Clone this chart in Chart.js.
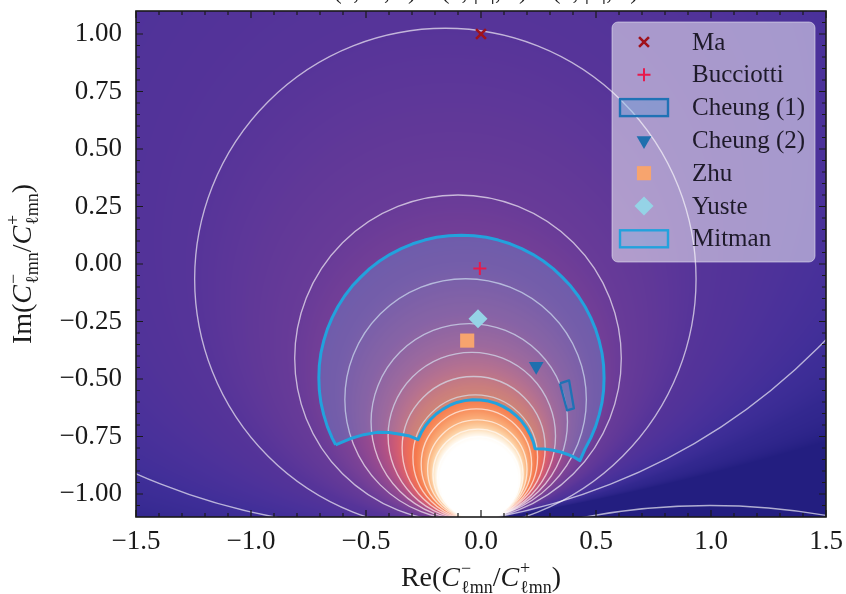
<!DOCTYPE html>
<html lang="en">
<head>
  <meta charset="UTF-8" />
  <title>Mode amplitude ratio</title>
  <script src="https://cdn.jsdelivr.net/npm/chart.js"></script>
  <style>
    body { margin: 0; background: #fff; }
    .wrap { width: 846px; height: 594px; position: relative; }
  </style>
</head>
<body>
  <div class="wrap"><canvas id="ratioChart"></canvas></div>

  <script>
    // ---- data ----
    const xTicks = [-1.5, -1.0, -0.5, 0.0, 0.5, 1.0, 1.5];
    const xTickLabels = ['−1.5', '−1.0', '−0.5', '0.0', '0.5', '1.0', '1.5'];
    const yTicks = [-1.0, -0.75, -0.5, -0.25, 0.0, 0.25, 0.5, 0.75, 1.0];
    const yTickLabels = ['−1.00', '−0.75', '−0.50', '−0.25', '0.00', '0.25', '0.50', '0.75', '1.00'];

    // single estimates (Re, Im)
    const pointLabels = ['Ma', 'Bucciotti', 'Cheung (2)', 'Zhu', 'Yuste'];
    const pointRe = [0.0, -0.005, 0.24, -0.06, -0.013];
    const pointIm = [1.0, -0.02, -0.445, -0.333, -0.238];

    // region outlines (closed)
    const cheung1Re = [0.343, 0.383, 0.404, 0.374, 0.343];
    const cheung1Im = [-0.519, -0.506, -0.628, -0.636, -0.519];

    const mitmanRe = [
      // outer edge, left corner over the top to right corner
      -0.632, -0.647, -0.668, -0.684, -0.696, -0.703, -0.705, -0.703, -0.696, -0.684, -0.668, -0.647, -0.622,
      -0.593, -0.560, -0.523, -0.484, -0.441, -0.395, -0.347, -0.297, -0.245, -0.193, -0.139, -0.085, -0.031,
      0.023, 0.075, 0.127, 0.177, 0.225, 0.271, 0.314, 0.353, 0.390, 0.423, 0.452, 0.477, 0.498, 0.514, 0.526,
      0.533, 0.535, 0.533, 0.526, 0.514, 0.498, 0.477, 0.452, 0.430,
      // lower right edge
      0.405, 0.374, 0.345, 0.313, 0.275,
      // inner edge
      0.235, 0.228, 0.215, 0.198, 0.178, 0.154, 0.127, 0.097, 0.066, 0.032, -0.002, -0.037, -0.071, -0.105,
      -0.137, -0.167, -0.195, -0.220, -0.242, -0.260, -0.274,
      // lower left edge
      -0.310, -0.352, -0.400, -0.452, -0.510, -0.570, -0.632];
    const mitmanIm = [
      -0.786, -0.757, -0.707, -0.655, -0.603, -0.549, -0.495, -0.441, -0.387, -0.335, -0.283, -0.233, -0.185,
      -0.139, -0.096, -0.057, -0.020, 0.013, 0.042, 0.067, 0.088, 0.104, 0.116, 0.123, 0.125, 0.123,
      0.116, 0.104, 0.088, 0.067, 0.042, 0.013, -0.020, -0.057, -0.096, -0.139, -0.185, -0.233, -0.283, -0.335, -0.387,
      -0.441, -0.495, -0.549, -0.603, -0.655, -0.707, -0.757, -0.805, -0.855,
      -0.840, -0.827, -0.817, -0.810, -0.804,
      -0.803, -0.775, -0.743, -0.713, -0.685, -0.660, -0.638, -0.620, -0.606, -0.596, -0.591, -0.590, -0.594, -0.602,
      -0.615, -0.632, -0.652, -0.676, -0.703, -0.733, -0.764,
      -0.748, -0.740, -0.733, -0.732, -0.742, -0.760, -0.786];

    // contour circles of the background map: centre and radius
    const contourCx = [-0.414, -0.155, -0.100, -0.067, -0.051, -0.040, -0.032, -0.025, -0.020, -0.016, -0.013, -0.010, 0.995];
    const contourCy = [1.511, -0.065, -0.410, -0.589, -0.686, -0.748, -0.800, -0.840, -0.870, -0.894, -0.914, -0.930, -4.0];
    const contourR = [2.655, 1.09, 0.71, 0.525, 0.427, 0.364, 0.311, 0.271, 0.240, 0.216, 0.196, 0.179, 2.95];

    // background colour map, by radius of the level circle through a point
    const bgStopR = [0.17, 0.18, 0.19, 0.20, 0.215, 0.235, 0.26, 0.29, 0.33, 0.38, 0.45, 0.55, 0.71, 1.09, 1.8, 2.655, 4.5, 12];
    const bgStopColor = ['#ffffff', '#fffbf4', '#feebd2', '#fdd2a6', '#fbb47f', '#f89563', '#f57a4e', '#ec6c5a',
      '#d25c72', '#b05185', '#934990', '#7b4296', '#683b98', '#563499', '#4a319a', '#3f2e98', '#33288f', '#231e80'];
    // level circles: centre = base + r * drift
    const levelBase = [0.019, -1.107];
    const levelDrift = [-0.163, 0.986];

    const serif = "'Liberation Serif', 'DejaVu Serif', serif";

    function pts(re, im) {
      return re.map((v, i) => ({ x: v, y: im[i] }));
    }

    function hexRgb(h) {
      return [parseInt(h.slice(1, 3), 16), parseInt(h.slice(3, 5), 16), parseInt(h.slice(5, 7), 16)];
    }

    function levelColor(r, stops) {
      if (r <= bgStopR[0]) return stops[0];
      const n = bgStopR.length - 1;
      if (r >= bgStopR[n]) return stops[n];
      let i = 0;
      while (bgStopR[i + 1] < r) i++;
      const f = (r - bgStopR[i]) / (bgStopR[i + 1] - bgStopR[i]);
      const a = stops[i], b = stops[i + 1];
      return [a[0] + (b[0] - a[0]) * f, a[1] + (b[1] - a[1]) * f, a[2] + (b[2] - a[2]) * f];
    }

    // background map + contour lines
    const backdrop = {
      id: 'backdrop',
      beforeDatasetsDraw(chart) {
        const { ctx, chartArea: a, scales: { x, y } } = chart;
        const unit = x.getPixelForValue(1) - x.getPixelForValue(0);
        const w = Math.round(a.width), h = Math.round(a.height);
        const img = ctx.createImageData(w, h);
        const stops = bgStopColor.map(hexRgb);
        const x0 = x.getValueForPixel(a.left), y0 = y.getValueForPixel(a.top);
        const dxp = (x.getValueForPixel(a.right) - x0) / w;
        const dyp = (y.getValueForPixel(a.bottom) - y0) / h;
        const dd = levelDrift[0] ** 2 + levelDrift[1] ** 2 - 1;
        for (let j = 0; j < h; j++) {
          const qy = y0 + (j + 0.5) * dyp - levelBase[1];
          for (let i = 0; i < w; i++) {
            const qx = x0 + (i + 0.5) * dxp - levelBase[0];
            const c = qx * qx + qy * qy;
            const qd = qx * levelDrift[0] + qy * levelDrift[1];
            const den = qd + Math.sqrt(Math.max(qd * qd - dd * c, 0));
            const r = den > 1e-9 ? c / den : Infinity;
            const col = levelColor(r, stops);
            const k = (j * w + i) * 4;
            img.data[k] = col[0]; img.data[k + 1] = col[1]; img.data[k + 2] = col[2]; img.data[k + 3] = 255;
          }
        }
        ctx.putImageData(img, Math.round(a.left), Math.round(a.top));

        ctx.save();
        ctx.beginPath();
        ctx.rect(a.left, a.top, a.width, a.height);
        ctx.clip();
        ctx.strokeStyle = 'rgba(255,255,255,0.64)';
        ctx.lineWidth = 1.35;
        contourR.forEach((r, i) => {
          ctx.beginPath();
          ctx.arc(x.getPixelForValue(contourCx[i]), y.getPixelForValue(contourCy[i]), r * unit, 0, Math.PI * 2);
          ctx.stroke();
        });
        ctx.restore();
      }
    };

    // inward ticks on all four sides plus the frame
    const frame = {
      id: 'frame',
      afterDatasetsDraw(chart) {
        const { ctx, chartArea: a, scales: { x, y } } = chart;
        ctx.save();
        ctx.strokeStyle = '#1a1a1a';
        ctx.lineWidth = 1.2;
        ctx.beginPath();
        for (let v = -15; v <= 15; v++) {
          const p = x.getPixelForValue(v / 10);
          const len = v % 5 === 0 ? 7 : 4;
          ctx.moveTo(p, a.bottom); ctx.lineTo(p, a.bottom - len);
          ctx.moveTo(p, a.top); ctx.lineTo(p, a.top + len);
        }
        for (let v = -21; v <= 21; v++) {
          const p = y.getPixelForValue(v / 20);
          const len = v % 5 === 0 ? 7 : 4;
          ctx.moveTo(a.left, p); ctx.lineTo(a.left + len, p);
          ctx.moveTo(a.right, p); ctx.lineTo(a.right - len, p);
        }
        ctx.stroke();
        ctx.lineWidth = 1.6;
        ctx.strokeRect(a.left, a.top, a.width, a.height);
        ctx.restore();
      }
    };

    // text with stacked super/subscripts, e.g. C^-_{lmn}
    function mathWidth(ctx, parts, size) {
      let w = 0;
      parts.forEach(p => {
        if (typeof p === 'string') {
          ctx.font = size + 'px ' + serif;
          w += ctx.measureText(p).width;
        } else {
          ctx.font = 'italic ' + size + 'px ' + serif;
          w += ctx.measureText(p.base).width + 1;
          ctx.font = Math.round(size * 0.66) + 'px ' + serif;
          w += Math.max(ctx.measureText(p.sup).width, ctx.measureText(p.sub).width);
        }
      });
      return w;
    }

    function drawMath(ctx, parts, cx, base, size) {
      let x = cx - mathWidth(ctx, parts, size) / 2;
      ctx.textAlign = 'left';
      ctx.textBaseline = 'alphabetic';
      parts.forEach(p => {
        if (typeof p === 'string') {
          ctx.font = size + 'px ' + serif;
          ctx.fillText(p, x, base);
          x += ctx.measureText(p).width;
        } else {
          ctx.font = 'italic ' + size + 'px ' + serif;
          ctx.fillText(p.base, x, base);
          x += ctx.measureText(p.base).width + 1;
          ctx.font = Math.round(size * 0.66) + 'px ' + serif;
          ctx.fillText(p.sup, x, base - size * 0.42);
          ctx.fillText(p.sub, x, base + size * 0.24);
          x += Math.max(ctx.measureText(p.sup).width, ctx.measureText(p.sub).width);
        }
      });
    }

    const xTitle = ['Re(', { base: 'C', sup: '−', sub: 'ℓmn' }, '/', { base: 'C', sup: '+', sub: 'ℓmn' }, ')'];
    const yTitle = ['Im(', { base: 'C', sup: '−', sub: 'ℓmn' }, '/', { base: 'C', sup: '+', sub: 'ℓmn' }, ')'];
    const topTitle = '(ℓ, m, n) = (2, |2|, 0) × (2, |2|, 0)';

    const labels = {
      id: 'labels',
      afterDraw(chart) {
        const { ctx, chartArea: a } = chart;
        ctx.save();
        ctx.fillStyle = '#1a1a1a';
        drawMath(ctx, xTitle, (a.left + a.right) / 2, 586, 28);
        ctx.save();
        ctx.translate(22, (a.top + a.bottom) / 2);
        ctx.rotate(-Math.PI / 2);
        drawMath(ctx, yTitle, 0, 9, 28);
        ctx.restore();
        // title sits mostly above the visible canvas
        ctx.font = '24px ' + serif;
        ctx.textAlign = 'center';
        ctx.textBaseline = 'alphabetic';
        ctx.fillText(topTitle, 486, -1);
        ctx.restore();
      }
    };

    // legend box in the upper right of the plot
    const legendBox = {
      id: 'legendBox',
      afterDraw(chart) {
        const { ctx } = chart;
        const L = 612, T = 22, W = 203, H = 240;
        ctx.save();
        ctx.beginPath();
        ctx.roundRect(L, T, W, H, 6);
        ctx.fillStyle = 'rgba(255,255,255,0.5)';
        ctx.fill();
        ctx.strokeStyle = 'rgba(235,235,245,0.55)';
        ctx.lineWidth = 1;
        ctx.stroke();
        chart.data.datasets.forEach((ds, i) => {
          const cy = 42 + i * 32.8;
          if (ds.showLine) {
            ctx.fillStyle = ds.backgroundColor;
            ctx.fillRect(620, cy - 8.5, 48, 17);
            ctx.strokeStyle = ds.borderColor;
            ctx.lineWidth = 2.4;
            ctx.strokeRect(620, cy - 8.5, 48, 17);
          } else {
            ctx.fillStyle = ds.pointBackgroundColor;
            ctx.strokeStyle = ds.pointBorderColor;
            ctx.lineWidth = ds.pointBorderWidth;
            Chart.helpers.drawPoint(ctx, {
              pointStyle: ds.pointStyle, radius: ds.pointRadius,
              rotation: ds.pointRotation || 0, borderWidth: ds.pointBorderWidth
            }, 644, cy);
          }
          ctx.fillStyle = '#1e1a2a';
          ctx.font = '25px ' + serif;
          ctx.textAlign = 'left';
          ctx.textBaseline = 'middle';
          ctx.fillText(ds.label, 692, cy + 1);
        });
        ctx.restore();
      }
    };

    const markerStyle = {
      'Ma': { pointStyle: 'crossRot', pointRadius: 7, pointBorderWidth: 2.6, color: '#a0121b' },
      'Bucciotti': { pointStyle: 'cross', pointRadius: 6.5, pointBorderWidth: 2, color: '#e8194b' },
      'Cheung (2)': { pointStyle: 'triangle', pointRadius: 8.5, pointBorderWidth: 0, pointRotation: 180, color: '#1f6fae' },
      'Zhu': { pointStyle: 'rect', pointRadius: 10, pointBorderWidth: 0, color: '#f7a46e' },
      'Yuste': { pointStyle: 'rectRot', pointRadius: 9.5, pointBorderWidth: 0, color: '#95d3e6' }
    };

    function markerSet(i) {
      const name = pointLabels[i];
      const s = markerStyle[name];
      return {
        label: name,
        data: [{ x: pointRe[i], y: pointIm[i] }],
        pointStyle: s.pointStyle,
        pointRadius: s.pointRadius,
        pointBorderWidth: s.pointBorderWidth,
        pointRotation: s.pointRotation || 0,
        pointBackgroundColor: s.color,
        pointBorderColor: s.color
      };
    }

    const ctx = document.getElementById('ratioChart').getContext('2d');
    new Chart(ctx, {
      type: 'scatter',
      data: {
        datasets: [
          markerSet(0),
          markerSet(1),
          {
            label: 'Cheung (1)',
            data: pts(cheung1Re, cheung1Im),
            showLine: true,
            fill: 'shape',
            borderColor: '#1f72b5',
            borderWidth: 2.3,
            borderJoinStyle: 'round',
            backgroundColor: 'rgba(70,150,215,0.3)',
            pointRadius: 0
          },
          markerSet(2),
          markerSet(3),
          markerSet(4),
          {
            label: 'Mitman',
            data: pts(mitmanRe, mitmanIm),
            showLine: true,
            fill: 'shape',
            borderColor: '#22a2dd',
            borderWidth: 3,
            borderJoinStyle: 'round',
            backgroundColor: 'rgba(100,180,230,0.25)',
            pointRadius: 0
          }
        ]
      },
      options: {
        responsive: true,
        maintainAspectRatio: false,
        animation: false,
        events: [],
        layout: { padding: { top: 11, right: 20, left: 0, bottom: 0 } },
        plugins: {
          legend: { display: false },
          tooltip: { enabled: false }
        },
        scales: {
          x: {
            type: 'linear',
            min: -1.5,
            max: 1.5,
            afterFit: s => { s.height = 77; s.paddingLeft = 0; s.paddingRight = 0; },
            afterBuildTicks: s => { s.ticks = xTicks.map(v => ({ value: v })); },
            grid: { display: false, drawTicks: false },
            border: { display: false },
            ticks: {
              autoSkip: false,
              maxRotation: 0,
              padding: 9,
              color: '#1a1a1a',
              font: { family: serif, size: 27 },
              callback: v => xTickLabels[xTicks.indexOf(v)]
            }
          },
          y: {
            type: 'linear',
            min: -1.1,
            max: 1.1,
            afterFit: s => { s.width = 136; s.paddingTop = 0; s.paddingBottom = 0; },
            afterBuildTicks: s => { s.ticks = yTicks.map(v => ({ value: v })); },
            grid: { display: false, drawTicks: false },
            border: { display: false },
            ticks: {
              autoSkip: false,
              padding: 14,
              color: '#1a1a1a',
              font: { family: serif, size: 27 },
              callback: v => yTickLabels[yTicks.indexOf(v)]
            }
          }
        }
      },
      plugins: [backdrop, frame, labels, legendBox]
    });
  </script>
</body>
</html>
